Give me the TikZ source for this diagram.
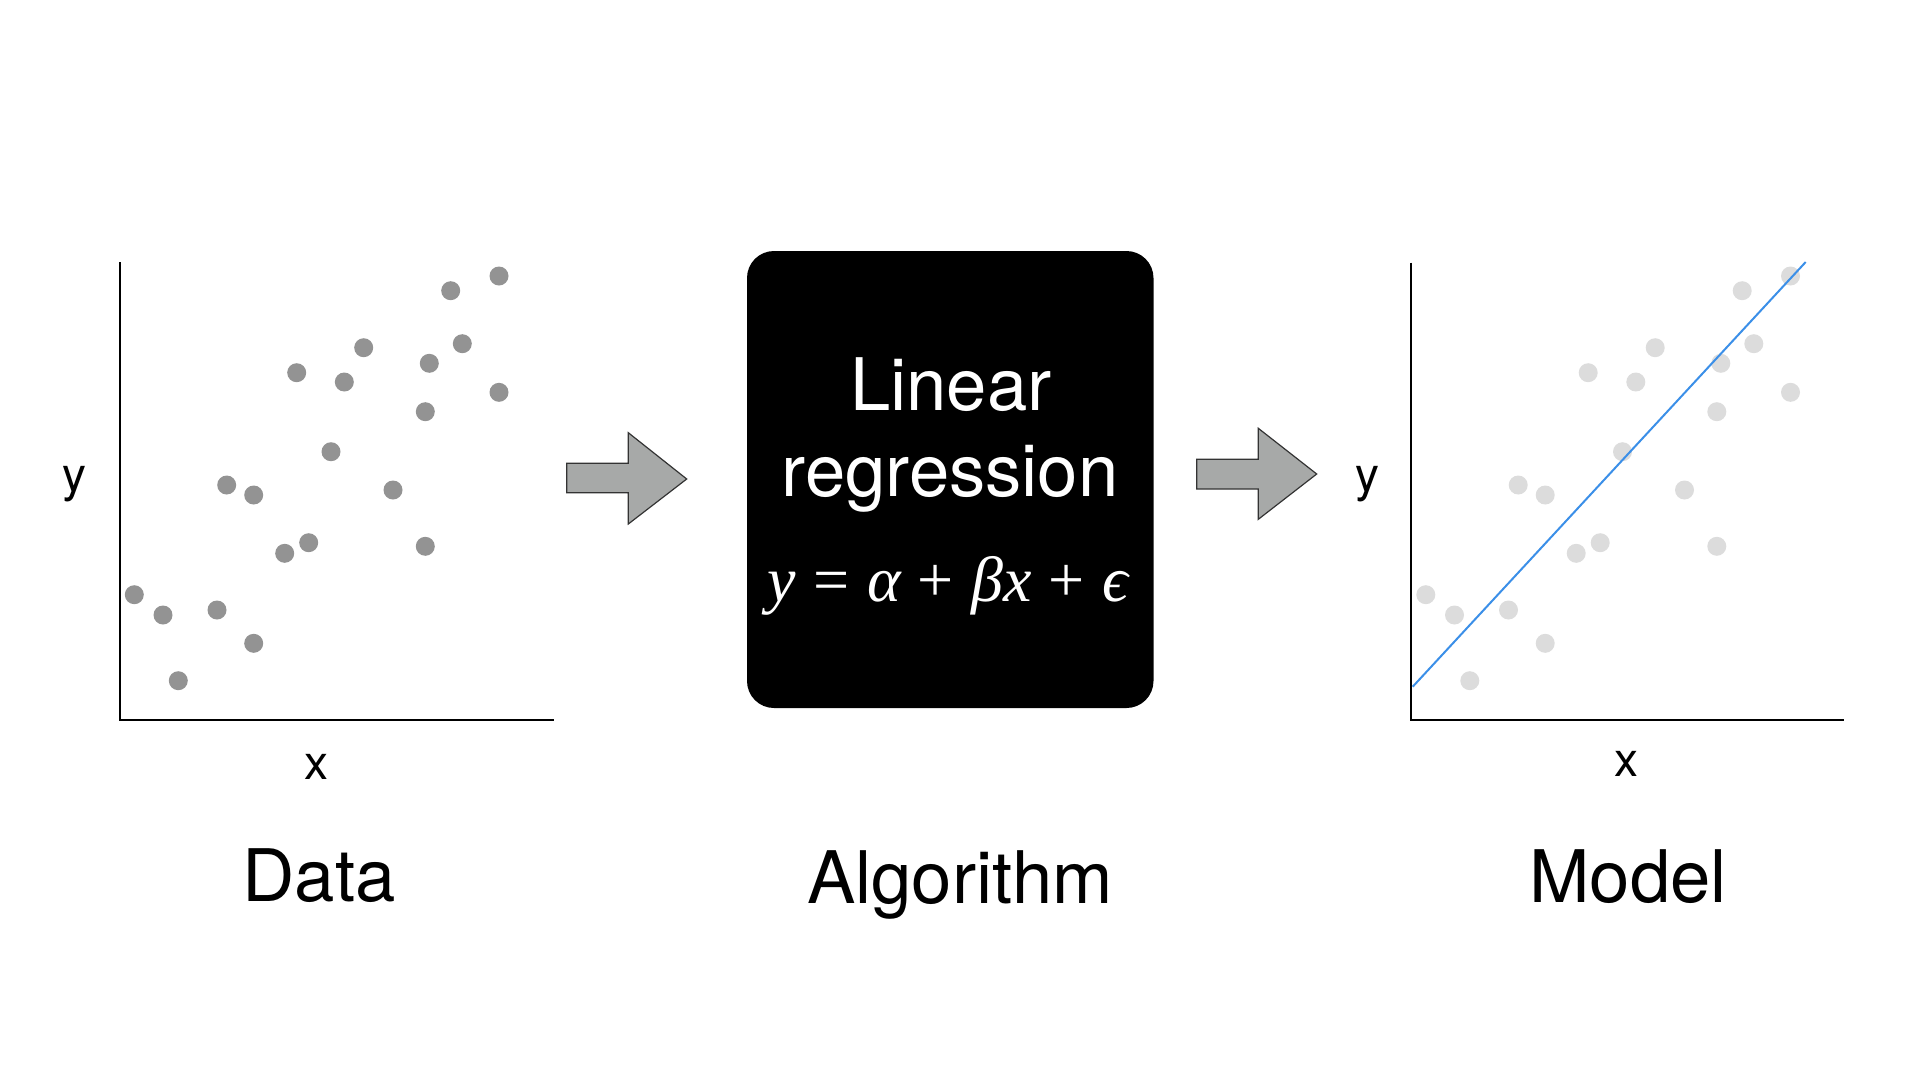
\documentclass[tikz,border=0pt]{standalone}
\usepackage{fontspec}
\setmainfont{TeX Gyre Heros}
\newfontfamily\eqserif{Liberation Serif}
\definecolor{dotdark}{HTML}{939393}
\definecolor{dotlight}{HTML}{DCDCDC}
\definecolor{arrowfill}{HTML}{A7A9A8}
\definecolor{fitblue}{HTML}{3B8FE8}
\newcommand{\eqop}[1]{\hspace{0.27em}{\upshape #1}\hspace{0.27em}}
\tikzset{
  axisline/.style={line width=2pt, black},
  darkdot/.style={fill=dotdark, draw=none},
  lightdot/.style={fill=dotlight, draw=none},
  blockarrow/.style={fill=arrowfill, draw=black!80, line width=1.2pt, line join=miter},
  caption/.style={anchor=base, inner sep=0pt, font=\fontsize{72.5}{84}\selectfont},
  axislabel/.style={inner sep=0pt, font=\fontsize{48}{56}\selectfont},
  boxtext/.style={anchor=base, inner sep=0pt, text=white, font=\fontsize{72.5}{86}\selectfont},
}
\begin{document}
\begin{tikzpicture}[x=1pt, y=-1pt]
\useasboundingbox (0,0) rectangle (1920,1080);

% ---- Data panel ----
\coordinate (dtop) at (120,262);
\coordinate (dorig) at (120,720);
\coordinate (dright) at (554,720);
\draw[axisline] (dtop) -- (dorig) -- (dright);
\foreach \px/\py in {499/276, 450.7/290.7, 363.7/347.7, 462.3/343.7, 429.3/363.3,
  296.7/372.7, 344.3/382, 499/392.3, 425.3/411.7, 331/451.7, 226.7/485,
  253.7/495, 393/490, 308.7/542.7, 284.7/553.3, 425.3/546.3, 134.3/594.7,
  163/615, 217/610, 253.7/643.3, 178.3/680.7}
  \fill[darkdot] (\px,\py) circle (9.5);
\node[axislabel] (dy) at (74.7,484) {y};
\node[axislabel] (dx) at (316.7,766.5) {x};
\node[caption] (data) at (319,901.7) {Data};

% ---- arrow 1 ----
\draw[blockarrow] (566.7,463.3) -- (628.3,463.3) -- (628.3,432.7) -- (686.7,479)
  -- (628.3,524) -- (628.3,492.7) -- (566.7,492.7) -- cycle;

% ---- Algorithm box ----
\node[fill=black, rounded corners=27pt, minimum width=406.5pt, minimum height=457pt,
  inner sep=0pt] (algbox) at (950.25,479.5) {};
\node[boxtext] (lin) at (951,410.7) {Linear};
\node[boxtext] (reg) at (950,496.7) {regression};
\node[anchor=base, inner sep=0pt, text=white, font=\eqserif\itshape\fontsize{64}{76}\selectfont]
  (eq) at (948,601.7) {y\eqop{=}α\eqop{+}βx\eqop{+}ϵ};
\node[caption] (alg) at (960,903.3) {Algorithm};

% ---- arrow 2 ----
\draw[blockarrow] (1196.7,459.3) -- (1258.3,459.3) -- (1258.3,428.3) -- (1316.7,474)
  -- (1258.3,519.3) -- (1258.3,489) -- (1196.7,489) -- cycle;

% ---- Model panel ----
\coordinate (mtop) at (1410.7,262.7);
\coordinate (morig) at (1410.7,720);
\coordinate (mright) at (1844.3,720);
\draw[axisline] (mtop) -- (morig) -- (mright);
\begin{scope}[xshift=1291.5pt]
\foreach \px/\py in {499/276, 450.7/290.7, 363.7/347.7, 462.3/343.7, 429.3/363.3,
  296.7/372.7, 344.3/382, 499/392.3, 425.3/411.7, 331/451.7, 226.7/485,
  253.7/495, 393/490, 308.7/542.7, 284.7/553.3, 425.3/546.3, 134.3/594.7,
  163/615, 217/610, 253.7/643.3, 178.3/680.7}
  \fill[lightdot] (\px,\py) circle (9.5);
\end{scope}
\coordinate (fitA) at (1412.7,686.7);
\coordinate (fitB) at (1805.7,262);
\draw[fitblue, line width=2pt] (fitA) -- (fitB);
\node[axislabel] (my) at (1367.8,484) {y};
\node[axislabel] (mx) at (1626,764) {x};
\node[caption] (model) at (1628,902.7) {Model};
\end{tikzpicture}
\end{document}
